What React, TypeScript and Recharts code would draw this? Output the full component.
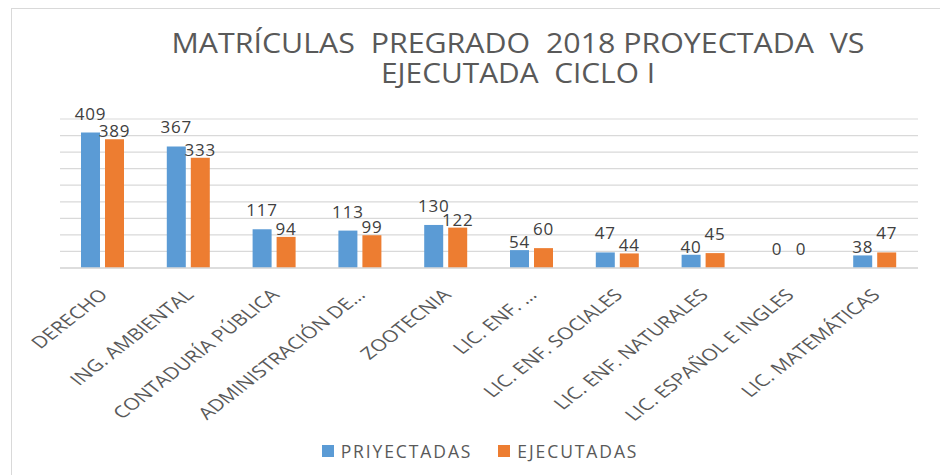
import React from "react"
import { BarChart, Bar, XAxis, YAxis, CartesianGrid, LabelList, Legend } from "recharts"

const categories = [
  "DERECHO",
  "ING. AMBIENTAL",
  "CONTADURÍA PÚBLICA",
  "ADMINISTRACIÓN DE…",
  "ZOOTECNIA",
  "LIC. ENF. …",
  "LIC. ENF. SOCIALES",
  "LIC. ENF. NATURALES",
  "LIC. ESPAÑOL E INGLES",
  "LIC. MATEMÁTICAS",
]
const proyectadas = [409, 367, 117, 113, 130, 54, 47, 40, 0, 38]
const ejecutadas = [389, 333, 94, 99, 122, 60, 44, 45, 0, 47]
const yTicks = [0, 50, 100, 150, 200, 250, 300, 350, 400, 450]
const titleLines = ["MATRÍCULAS  PREGRADO  2018 PROYECTADA  VS", "EJECUTADA  CICLO I"]

const series = [
  { key: "proyectadas", other: "ejecutadas", label: "PRIYECTADAS", color: "#5B9BD5" },
  { key: "ejecutadas", other: "proyectadas", label: "EJECUTADAS", color: "#ED7D31" },
]

const data = categories.map((label, i) => ({
  label,
  proyectadas: proyectadas[i],
  ejecutadas: ejecutadas[i],
}))

const FONT = "'Open Sans', 'DejaVu Sans', sans-serif"
const GRID = "#D9D9D9"
const TEXT = "#595959"

function XTick({ x, y, payload }: any) {
  return (
    <g transform={`translate(${x + 6},${y + 20})`}>
      <text transform="scale(1.28,1) rotate(-45)" textAnchor="end" fontSize={16.5} fill={TEXT} fontFamily={FONT}>
        {payload.value}
      </text>
    </g>
  )
}

// staggered labels like the Excel original: the bigger value of each pair sits higher
const makeLabel = (key: string, other: string) => (props: any) => {
  const { x, y, width, height, index, value } = props
  const row: any = data[index]
  const lifted = row[key] >= row[other]
  const top = Math.min(y, y + height)
  return (
    <text x={x + width / 2} y={top - (lifted ? 13 : 2)} textAnchor="middle" fontSize={17} fill="#404040" fontFamily={FONT} letterSpacing={0.8}>
      {value}
    </text>
  )
}

function LegendContent() {
  return (
    <div style={{ display: "flex", justifyContent: "center", gap: 26, paddingLeft: 20, fontFamily: FONT }}>
      {series.map((s) => (
        <div key={s.key} style={{ display: "flex", alignItems: "center" }}>
          <span style={{ width: 12, height: 12, background: s.color, marginRight: 7, display: "inline-block" }} />
          <span style={{ fontSize: 17.5, color: TEXT, letterSpacing: 1.9 }}>{s.label}</span>
        </div>
      ))}
    </div>
  )
}

export default function App() {
  return (
    <div style={{ position: "absolute", left: 0, top: 0, width: 940, height: 475, background: "#fff", overflow: "hidden" }}>
      <div
        style={{
          position: "absolute",
          left: 11,
          top: 8,
          width: 940,
          height: 466,
          borderTop: `1.5px solid ${GRID}`,
          borderLeft: `1.5px solid ${GRID}`,
        }}
      />
      <svg style={{ position: "absolute", left: 0, top: 0 }} width={940} height={100}>
        <text textAnchor="middle" fontSize={27} fill={TEXT} fontFamily={FONT} xmlSpace="preserve">
          <tspan x={518} y={53} textLength={693} lengthAdjust="spacingAndGlyphs">
            {titleLines[0]}
          </tspan>
          <tspan x={518} y={83} textLength={274} lengthAdjust="spacingAndGlyphs">
            {titleLines[1]}
          </tspan>
        </text>
      </svg>
      <div style={{ position: "absolute", left: 0, top: 0 }}>
        <BarChart width={940} height={475} data={data} margin={{ top: 119, right: 22, left: 60, bottom: 57 }} barSize={19} barGap={5}>
          <CartesianGrid vertical={false} stroke={GRID} strokeWidth={1.2} />
          <XAxis dataKey="label" interval={0} height={150} axisLine={{ stroke: GRID, strokeWidth: 1.5 }} tickLine={false} tick={<XTick />} />
          <YAxis hide domain={[0, 450]} ticks={yTicks} interval={0} />
          <Legend verticalAlign="middle" content={<LegendContent />} wrapperStyle={{ top: 439, left: 0, width: 940 }} />
          {series.map((s) => (
            <Bar key={s.key} dataKey={s.key} name={s.label} fill={s.color} minPointSize={0.01} isAnimationActive={false}>
              <LabelList dataKey={s.key} content={makeLabel(s.key, s.other)} />
            </Bar>
          ))}
        </BarChart>
      </div>
    </div>
  )
}
